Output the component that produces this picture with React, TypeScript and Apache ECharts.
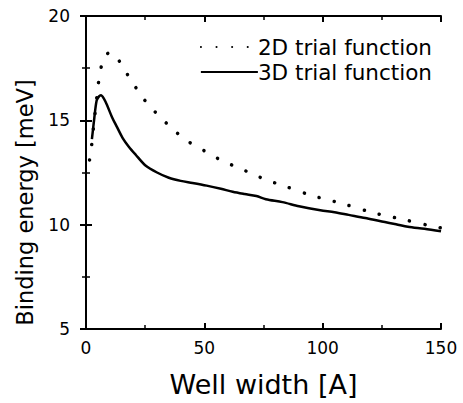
import React, { useEffect, useRef } from "react";
import * as echarts from "echarts";

const seriesNames = ["2D trial function", "3D trial function"];

const width2D = [1.5, 2.2, 2.7, 3.5, 5.1, 5.9, 7.2, 8.5, 10.4, 12.5, 15.1, 18.6, 22.2, 26.3, 31.3, 37.3, 43.5, 50.3, 56.9, 63.4, 69.7, 76.3, 83.4, 95.3, 108.7, 121.4, 134, 146.8, 150];
const energy2D = [13.1, 13.6, 14.18, 15.0, 16.64, 17.26, 17.9, 18.15, 18.25, 18.1, 17.64, 17.0, 16.38, 15.75, 15.17, 14.51, 13.96, 13.52, 13.1, 12.77, 12.47, 12.14, 11.87, 11.4, 11.0, 10.57, 10.25, 9.91, 9.85];

const width3D = [2.5, 3.5, 4.5, 5.5, 6.3, 7.5, 9, 11, 13, 15.5, 18, 21, 25, 30, 35, 40, 45, 51, 57, 62, 67, 72, 76, 83, 90, 99, 105, 111, 118, 125, 131, 136, 143, 150];
const energy3D = [14.1, 15.1, 15.95, 16.15, 16.2, 16.05, 15.7, 15.15, 14.7, 14.15, 13.75, 13.35, 12.85, 12.5, 12.25, 12.1, 12.0, 11.87, 11.72, 11.58, 11.47, 11.37, 11.22, 11.08, 10.88, 10.69, 10.6, 10.47, 10.32, 10.15, 10.02, 9.9, 9.8, 9.68];

const xMin = 0, xMax = 150, xInterval = 50;
const yMin = 5, yMax = 20, yInterval = 5;

const FONT = "DejaVu Sans";

export default function App() {
  const ref = useRef<HTMLDivElement>(null);
  useEffect(() => {
    const chart = echarts.init(ref.current!, null, { renderer: "svg" });
    const axisLine = { show: true, lineStyle: { color: "#000", width: 2 } };
    const tick = { show: true, inside: true, length: 6, lineStyle: { color: "#000", width: 2 } };
    const minor = { show: true, splitNumber: 2, length: 4, lineStyle: { color: "#000", width: 1.5 } };
    chart.setOption({
      animation: false,
      backgroundColor: "#fff",
      grid: { left: 86, right: 22, top: 16, bottom: 69, containLabel: false },
      legend: {
        orient: "vertical",
        right: 31,
        top: 36,
        padding: 0,
        itemGap: 3,
        itemWidth: 57,
        itemHeight: 20,
        data: seriesNames,
        itemStyle: { opacity: 0 },
        textStyle: { fontFamily: FONT, fontSize: 21.5, color: "#000", padding: [0, 0, 0, -5] },
      },
      xAxis: [
        {
          type: "value", min: xMin, max: xMax, interval: xInterval, position: "bottom",
          name: "Well width [A]", nameLocation: "middle", nameGap: 42,
          nameTextStyle: { fontFamily: FONT, fontSize: 27, color: "#000" },
          axisLine, axisTick: tick, minorTick: minor, splitLine: { show: false },
          axisLabel: { fontFamily: FONT, fontSize: 17, color: "#000", margin: 10 },
        },
        {
          type: "value", min: xMin, max: xMax, interval: xInterval, position: "top",
          axisLine, axisTick: tick, minorTick: minor, splitLine: { show: false },
          axisLabel: { show: false },
        },
      ],
      yAxis: [
        {
          type: "value", min: yMin, max: yMax, interval: yInterval, position: "left",
          name: "Binding energy [meV]", nameLocation: "middle", nameGap: 50,
          nameTextStyle: { fontFamily: FONT, fontSize: 22.5, color: "#000", padding: [0, 60, 0, 0] },
          axisLine, axisTick: tick, minorTick: minor, splitLine: { show: false },
          axisLabel: { fontFamily: FONT, fontSize: 17, color: "#000", margin: 16 },
        },
        {
          type: "value", min: yMin, max: yMax, interval: yInterval, position: "right",
          axisLine, axisTick: tick, minorTick: minor, splitLine: { show: false },
          axisLabel: { show: false },
        },
      ],
      series: [
        {
          name: seriesNames[0],
          type: "line",
          data: width2D.map((x, i) => [x, energy2D[i]]),
          symbol: "none",
          smooth: 0.3,
          lineStyle: { color: "#000", width: 3.5, type: [0.1, 15.5], cap: "round" },
          itemStyle: { color: "#000" },
        },
        {
          name: seriesNames[1],
          type: "line",
          data: width3D.map((x, i) => [x, energy3D[i]]),
          symbol: "none",
          smooth: 0.3,
          lineStyle: { color: "#000", width: 2.5, type: "solid" },
          itemStyle: { color: "#000" },
        },
      ],
    });
    return () => chart.dispose();
  }, []);
  return <div ref={ref} style={{ width: 463, height: 403, position: "absolute", left: 0, top: 0 }} />;
}
